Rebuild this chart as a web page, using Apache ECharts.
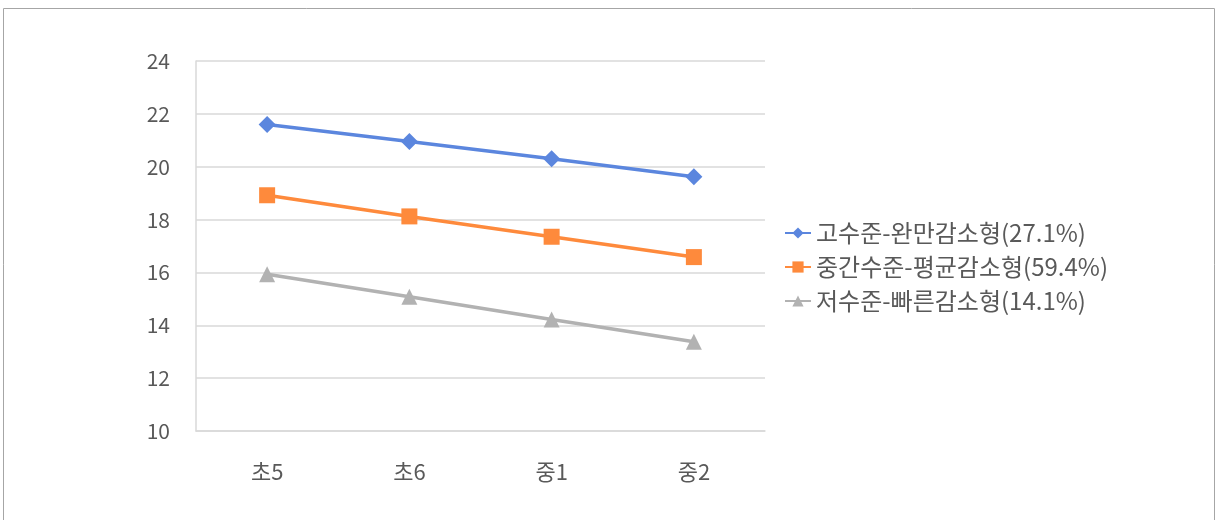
<!DOCTYPE html>
<html>
<head>
<meta charset="utf-8">
<script src="https://cdn.jsdelivr.net/npm/echarts@6/dist/echarts.min.js"></script>
<style>
  body { margin: 0; background: #fff; }
  #chart { width: 1218px; height: 520px; }
</style>
</head>
<body>
<div id="chart"></div>
<script>
const categories = ["초5", "초6", "중1", "중2"];
const seriesNames = [
  "고수준-완만감소형(27.1%)",
  "중간수준-평균감소형(59.4%)",
  "저수준-빠른감소형(14.1%)"
];
const highValues = [21.6, 20.95, 20.3, 19.62];
const midValues = [18.92, 18.12, 17.35, 16.58];
const lowValues = [15.93, 15.08, 14.22, 13.38];
const yTicks = { min: 10, max: 24, interval: 2 };

const colors = ["#5b86de", "#fe8a3c", "#b2b2b2"];
const symbols = ["diamond", "rect", "triangle"];
const sizes = [17, 16, 16];
const font = "'Noto Sans CJK KR', 'Noto Sans', sans-serif";

const chart = echarts.init(document.getElementById("chart"));

const series = [highValues, midValues, lowValues].map((vals, i) => ({
  name: seriesNames[i],
  type: "line",
  data: vals,
  symbol: symbols[i],
  symbolSize: sizes[i],
  itemStyle: { color: colors[i] },
  lineStyle: { color: colors[i], width: 3.5 },
  animation: false
}));

chart.setOption({
  graphic: [
    {
      type: "rect",
      shape: { x: 3.5, y: 8.5, width: 1211, height: 530 },
      style: { fill: null, stroke: "#a6a6a6", lineWidth: 1 },
      silent: true
    }
  ],
  grid: { left: 196, right: 453, top: 61, bottom: 89 },
  legend: {
    orient: "vertical",
    left: 779,
    top: 216,
    itemWidth: 26,
    itemHeight: 14,
    itemGap: 10,
    textStyle: { fontFamily: font, fontSize: 24, color: "#595959" },
    data: seriesNames
  },
  xAxis: {
    type: "category",
    data: categories,
    boundaryGap: true,
    axisLine: { show: true, lineStyle: { color: "#d9d9d9", width: 1.5 } },
    axisTick: { show: false },
    axisLabel: { fontFamily: font, fontSize: 22, color: "#595959", margin: 30 }
  },
  yAxis: {
    type: "value",
    min: yTicks.min,
    max: yTicks.max,
    interval: yTicks.interval,
    axisLine: { show: true, lineStyle: { color: "#d9d9d9", width: 1.5 } },
    axisTick: { show: false },
    splitLine: { lineStyle: { color: "#d9d9d9", width: 1.5 } },
    axisLabel: { fontFamily: font, fontSize: 21, color: "#595959", margin: 26 }
  },
  series: series
});
</script>
</body>
</html>
